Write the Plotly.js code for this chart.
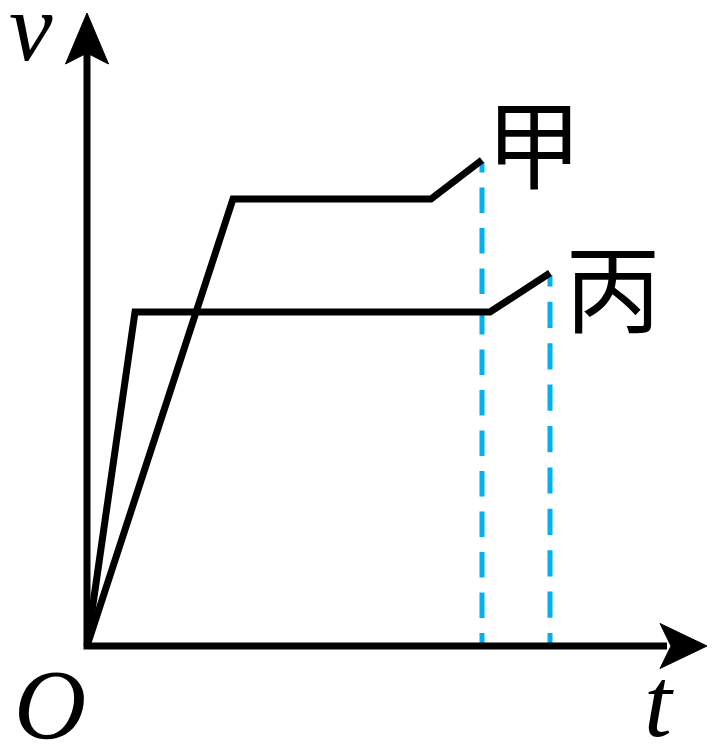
<!DOCTYPE html>
<html>
<head>
<meta charset="utf-8">
<script src="https://cdn.plot.ly/plotly-3.0.1.min.js"></script>
<style>html,body{margin:0;padding:0;background:#fff;}#chart{width:720px;height:750px;}</style>
</head>
<body>
<div id="chart"></div>
<script>
// v-t graph values (arbitrary units)
var tJia = [0, 1.46, 3.44, 3.95];
var vJia = [0, 4.47, 4.47, 4.86];
var tBing = [0, 0.48, 4.03, 4.63];
var vBing = [0, 3.34, 3.34, 3.73];
var seriesLabels = ["甲", "丙"];
var axisLabels = {x: "t", y: "v", origin: "O"};

var tMaxAxis = 6.2, vMaxAxis = 6.33;

// dash pattern anchored at the t axis: short first dash, then regular dashes
function dashFromAxis(first, dash, gap, n) {
  var parts = [first + "px", gap + "px"];
  for (var i = 0; i < n; i++) { parts.push(dash + "px"); parts.push(gap + "px"); }
  return parts.join(",");
}

var traces = [
  {x: [tJia[3], tJia[3]], y: [0, vJia[3] - 0.02], mode: "lines",
   line: {color: "#00B0F0", width: 5, dash: dashFromAxis(13, 25.5, 15, 14)}, hoverinfo: "skip"},
  {x: [tBing[3], tBing[3]], y: [0, vBing[3] - 0.02], mode: "lines",
   line: {color: "#00B0F0", width: 5, dash: dashFromAxis(13, 26.2, 15.2, 12)}, hoverinfo: "skip"},
  {x: tJia, y: vJia, mode: "lines", line: {color: "#000", width: 7}, hoverinfo: "skip"},
  {x: tBing, y: vBing, mode: "lines", line: {color: "#000", width: 7}, hoverinfo: "skip"}
];

var shapes = [
  {type: "path", xref: "x", yref: "y", path: "M 0," + (vMaxAxis - 0.4) + " L 0,0 L " + (tMaxAxis - 0.4) + ",0",
   line: {color: "#000", width: 7}},
  {type: "path", xref: "x", yref: "y",
   path: "M 0," + vMaxAxis + " L -0.215," + (vMaxAxis - 0.51) + " L 0," + (vMaxAxis - 0.4) + " L 0.215," + (vMaxAxis - 0.51) + " Z",
   fillcolor: "#000", line: {color: "#000", width: 1}},
  {type: "path", xref: "x", yref: "y",
   path: "M " + tMaxAxis + ",0 L " + (tMaxAxis - 0.47) + ",0.225 L " + (tMaxAxis - 0.36) + ",0 L " + (tMaxAxis - 0.47) + ",-0.225 Z",
   fillcolor: "#000", line: {color: "#000", width: 1}}
];

var serif = "Liberation Serif, Times New Roman, serif";
var cjk = "Noto Sans CJK SC, sans-serif";
var annotations = [
  {x: -0.56, y: 6.19, text: "<i>" + axisLabels.y + "</i>", showarrow: false, font: {family: serif, size: 98, color: "#000"}, xanchor: "center", yanchor: "middle"},
  {x: -0.37, y: -0.58, text: "<i>" + axisLabels.origin + "</i>", showarrow: false, font: {family: serif, size: 100, color: "#000"}, xanchor: "center", yanchor: "middle"},
  {x: 5.72, y: -0.56, text: "<i>" + axisLabels.x + "</i>", showarrow: false, font: {family: serif, size: 100, color: "#000"}, xanchor: "center", yanchor: "middle"},
  {x: 4.47, y: 5.07, text: seriesLabels[0], showarrow: false, font: {family: cjk, size: 96, color: "#000"}, xanchor: "center", yanchor: "middle"},
  {x: 5.26, y: 3.63, text: seriesLabels[1], showarrow: false, font: {family: cjk, size: 96, color: "#000"}, xanchor: "center", yanchor: "middle"}
];

var layout = {
  width: 720, height: 750,
  margin: {l: 0, r: 0, t: 0, b: 0},
  paper_bgcolor: "#fff", plot_bgcolor: "#fff",
  showlegend: false,
  xaxis: {range: [-0.87, 6.33], visible: false, fixedrange: true},
  yaxis: {range: [-1.04, 6.46], visible: false, fixedrange: true},
  shapes: shapes,
  annotations: annotations
};

Plotly.newPlot("chart", traces, layout, {displayModeBar: false, staticPlot: true});
</script>
</body>
</html>
